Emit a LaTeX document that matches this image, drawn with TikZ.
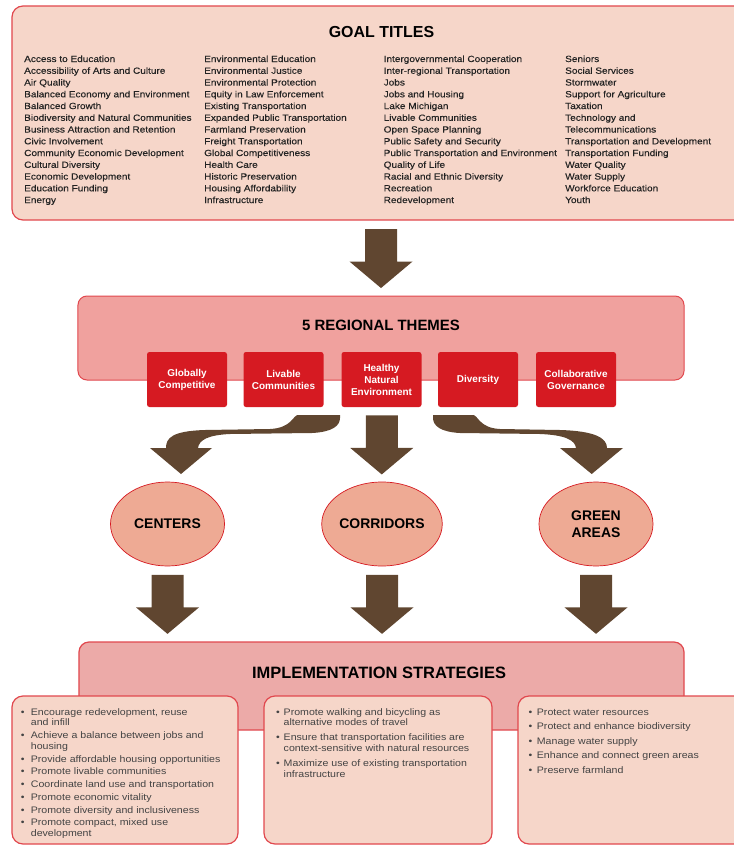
\documentclass[tikz,border=0pt]{standalone}
\usepackage{fontspec}
\setmainfont{Liberation Sans}
\newfontfamily\widefont[FakeStretch=1.12,FakeBold=0.25]{Liberation Sans}
\newfontfamily\stratfont[FakeStretch=1.12]{Liberation Sans}
\usetikzlibrary{shapes.geometric,calc}
\definecolor{peach}{RGB}{246,214,201}
\definecolor{salmon}{RGB}{240,161,158}
\definecolor{implpink}{RGB}{236,170,168}
\definecolor{boxred}{RGB}{214,26,34}
\definecolor{edgered}{RGB}{225,72,78}
\definecolor{ellfill}{RGB}{238,170,148}
\definecolor{arrowbrown}{RGB}{96,70,48}
\definecolor{listgray}{RGB}{35,35,35}
\definecolor{stratgray}{RGB}{68,68,68}
\begin{document}
\begin{tikzpicture}[x=1bp,y=-1bp,
  panel/.style={draw=edgered, line width=1.2bp, rounded corners=11bp, inner sep=0},
  themebox/.style={fill=boxred, rounded corners=2.5bp, minimum width=80bp, minimum height=55bp,
     inner sep=0, text=white, font=\fontsize{10}{12}\selectfont\bfseries, align=center},
  area/.style={ellipse, draw=boxred, line width=0.7bp, fill=ellfill, minimum width=114bp,
     minimum height=84bp, inner sep=0, font=\fontsize{14}{17}\selectfont\bfseries, align=center},
  bigtitle/.style={inner sep=0, font=\fontsize{16}{19}\selectfont\bfseries},
  goallist/.style={inner sep=0, anchor=base west, text=listgray, font=\widefont\fontsize{9}{11.8}\selectfont},
  stratlist/.style={inner sep=0, anchor=base west, text=stratgray, font=\stratfont\fontsize{9.5}{10.8}\selectfont},
  fatdown/.pic={\fill[arrowbrown] (-16,-29) -- (16,-29) -- (16,3.5) -- (31.5,3.5) -- (0,30) -- (-31.5,3.5) -- (-16,3.5) -- cycle;}
]
\useasboundingbox (0,0) rectangle (734,846);
\clip (0,0) rectangle (734,846);

% ---------- Goal titles ----------
\node[panel, fill=peach, minimum width=738bp, minimum height=214bp] (goal) at (381,113) {};
\node[bigtitle] (goaltitle) at (381.5,31.7) {GOAL TITLES};
\node[goallist] (g1) at (24,62) {\begin{tabular}[t]{@{}l@{}}
Access to Education\\ Accessibility of Arts and Culture\\ Air Quality\\
Balanced Economy and Environment\\ Balanced Growth\\ Biodiversity and Natural Communities\\
Business Attraction and Retention\\ Civic Involvement\\ Community Economic Development\\
Cultural Diversity\\ Economic Development\\ Education Funding\\ Energy\end{tabular}};
\node[goallist] (g2) at (204,62) {\begin{tabular}[t]{@{}l@{}}
Environmental Education\\ Environmental Justice\\ Environmental Protection\\
Equity in Law Enforcement\\ Existing Transportation\\ Expanded Public Transportation\\
Farmland Preservation\\ Freight Transportation\\ Global Competitiveness\\
Health Care\\ Historic Preservation\\ Housing Affordability\\ Infrastructure\end{tabular}};
\node[goallist] (g3) at (383.5,62) {\begin{tabular}[t]{@{}l@{}}
Intergovernmental Cooperation\\ Inter-regional Transportation\\ Jobs\\
Jobs and Housing\\ Lake Michigan\\ Livable Communities\\
Open Space Planning\\ Public Safety and Security\\ Public Transportation and Environment\\
Quality of Life\\ Racial and Ethnic Diversity\\ Recreation\\ Redevelopment\end{tabular}};
\node[goallist] (g4) at (565,62) {\begin{tabular}[t]{@{}l@{}}
Seniors\\ Social Services\\ Stormwater\\
Support for Agriculture\\ Taxation\\ Technology and\\
Telecommunications\\ Transportation and Development\\ Transportation Funding\\
Water Quality\\ Water Supply\\ Workforce Education\\ Youth\end{tabular}};

% ---------- Regional themes ----------
\node[panel, fill=salmon, minimum width=606bp, minimum height=84bp, rounded corners=9bp, line width=1bp] (themes) at (381,338) {};
\node[bigtitle, font=\fontsize{15}{18}\selectfont\bfseries] (themetitle) at (381,325) {5 REGIONAL THEMES};
\node[themebox] (gc)  at (187,379.5)   {Globally\\Competitive};
\node[themebox] (lc)  at (283.5,379.5) {Livable\\Communities};
\node[themebox] (hne) at (381.5,379.5) {Healthy\\Natural\\Environment};
\node[themebox] (div) at (478,379.5)   {Diversity};
\node[themebox] (cg)  at (576,379.5)   {Collaborative\\Governance};

% ---------- Areas ----------
\node[area] (cen) at (167.5,524) {CENTERS};
\node[area] (cor) at (382,524)   {CORRIDORS};
\node[area] (grn) at (596,524)   {GREEN\\AREAS};

% ---------- Implementation ----------
\node[panel, fill=implpink, minimum width=605bp, minimum height=88bp, rounded corners=10bp] (impl) at (381.5,686) {};
\node[bigtitle, font=\fontsize{16.5}{19}\selectfont\bfseries] (impltitle) at (379,672.7) {IMPLEMENTATION STRATEGIES};

\node[panel, fill=peach, minimum width=226bp, minimum height=148bp] (sa) at (125,770) {};
\node[panel, fill=peach, minimum width=228bp, minimum height=148bp] (sb) at (378,770) {};
\node[panel, fill=peach, minimum width=232bp, minimum height=148bp] (sc) at (634,770) {};

\node[stratlist] (ta) at (20.7,715) {\begin{tabular}[t]{@{}l@{}l@{}}
\makebox[10bp][l]{\textbullet} & Encourage redevelopment, reuse\\ & and infill\\[2bp]
\makebox[10bp][l]{\textbullet} & Achieve a balance between jobs and\\ & housing\\[2bp]
\makebox[10bp][l]{\textbullet} & Provide affordable housing opportunities\\[2bp]
\makebox[10bp][l]{\textbullet} & Promote livable communities\\[2bp]
\makebox[10bp][l]{\textbullet} & Coordinate land use and transportation\\[2bp]
\makebox[10bp][l]{\textbullet} & Promote economic vitality\\[2bp]
\makebox[10bp][l]{\textbullet} & Promote diversity and inclusiveness\\[2bp]
\makebox[10bp][l]{\textbullet} & Promote compact, mixed use\\ & development\end{tabular}};
\node[stratlist] (tb) at (276,715) {\begin{tabular}[t]{@{}l@{}l@{}}
\makebox[7.5bp][l]{\textbullet} & Promote walking and bicycling as\\ & alternative modes of travel\\[4.4bp]
\makebox[7.5bp][l]{\textbullet} & Ensure that transportation facilities are\\ & context-sensitive with natural resources\\[4.4bp]
\makebox[7.5bp][l]{\textbullet} & Maximize use of existing transportation\\ & infrastructure\end{tabular}};
\node[stratlist] (tc) at (528.3,715) {\begin{tabular}[t]{@{}l@{}l@{}}
\makebox[8.4bp][l]{\textbullet} & Protect water resources\\[3.8bp]
\makebox[8.4bp][l]{\textbullet} & Protect and enhance biodiversity\\[3.8bp]
\makebox[8.4bp][l]{\textbullet} & Manage water supply\\[3.8bp]
\makebox[8.4bp][l]{\textbullet} & Enhance and connect green areas\\[3.8bp]
\makebox[8.4bp][l]{\textbullet} & Preserve farmland\end{tabular}};

% ---------- Arrows ----------
\pic at ($(goal.south)!0.5!(themes.north)$) {fatdown};
\pic at ($(hne.south)!0.5!(cor.north)$) {fatdown};
\pic at ($(cen.south)!0.5!(cen.south |- impl.north)$) {fatdown};
\pic at ($(cor.south)!0.5!(cor.south |- impl.north)$) {fatdown};
\pic at ($(grn.south)!0.5!(grn.south |- impl.north)$) {fatdown};

% curved arrow to CENTERS
\fill[arrowbrown] (340,415) -- (298,415)
  .. controls (293,415) and (292,428) .. (270,429)
  -- (205,430)
  .. controls (172,431) and (166,438) .. (166,448)
  -- (150,448) -- (181,474) -- (212,448) -- (198,448)
  .. controls (199,440) and (208,435) .. (230,434)
  -- (312,433)
  .. controls (332,432) and (340,426) .. (340,418) -- cycle;
% curved arrow to GREEN AREAS
\fill[arrowbrown] (433,415) -- (473,415)
  .. controls (478,415) and (479,428) .. (500,429)
  -- (560,430)
  .. controls (595,431) and (607,438) .. (607,448)
  -- (623,448) -- (591.7,474) -- (560,448) -- (576,448)
  .. controls (575,440) and (565,435) .. (540,434)
  -- (460,433)
  .. controls (441,432) and (433,426) .. (433,418) -- cycle;
\end{tikzpicture}
\end{document}
